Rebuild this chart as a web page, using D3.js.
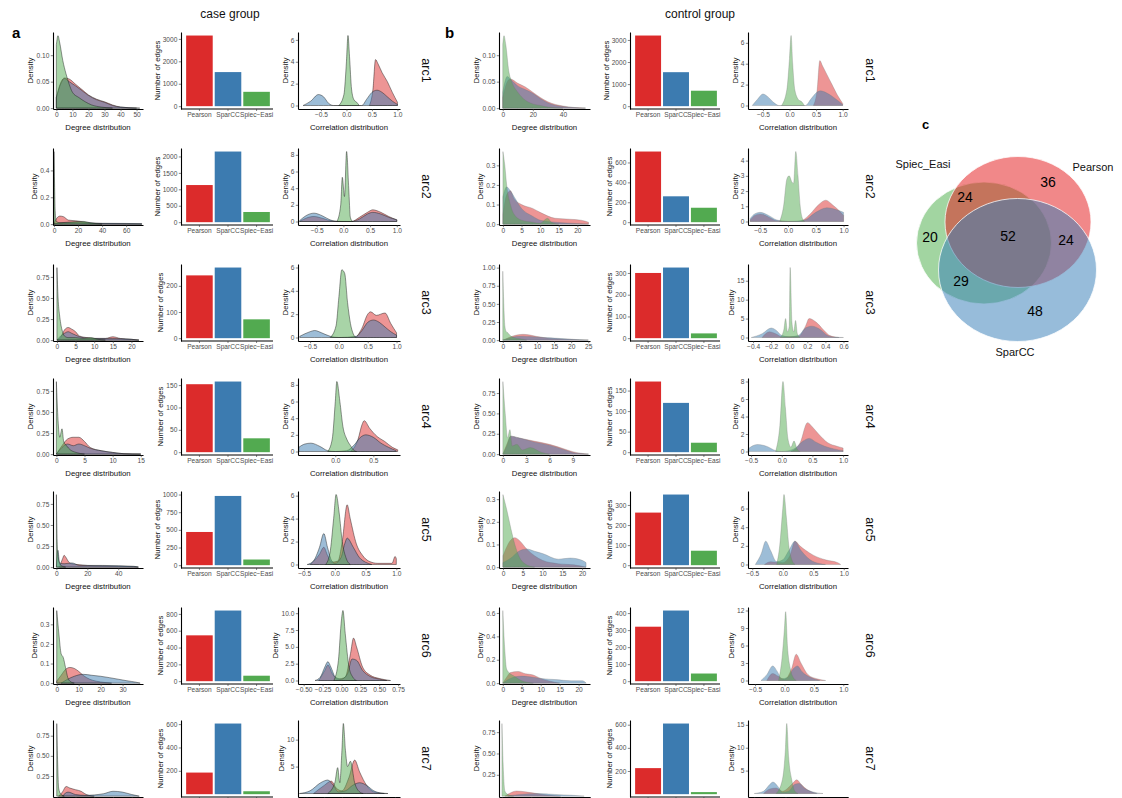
<!DOCTYPE html>
<html>
<head>
<meta charset="utf-8">
<script src="https://cdn.jsdelivr.net/npm/d3@7"></script>
<style>
body { margin: 0; background: #fff; }
text { font-family: "Liberation Sans", Arial, sans-serif; }
</style>
</head>
<body>
<svg id="chart" width="1122" height="798"></svg>
<script>
// ---- data ----
var rowLabels = ["arc1", "arc2", "arc3", "arc4", "arc5", "arc6", "arc7"];
var methods = ["Pearson", "SparCC", "Spiec\u2212Easi"];

// number of edges per method (Pearson, SparCC, Spiec-Easi)
var caseEdges = [[3150, 1520, 640], [1130, 2150, 310], [240, 270, 72], [152, 158, 31], [470, 980, 80], [545, 840, 65], [185, 605, 25]];
var controlEdges = [[3200, 1540, 700], [710, 260, 145], [300, 325, 22], [172, 120, 23], [262, 352, 72], [320, 415, 45], [225, 610, 18]];
var caseEdgeTicks = [[0, 1000, 2000, 3000], [0, 500, 1000, 1500, 2000], [0, 100, 200], [0, 50, 100, 150], [0, 250, 500, 750, 1000], [0, 200, 400, 600, 800], [0, 200, 400, 600]];
var controlEdgeTicks = [[0, 1000, 2000, 3000], [0, 200, 400, 600], [0, 100, 200, 300], [0, 50, 100, 150], [0, 100, 200, 300], [0, 100, 200, 300, 400], [0, 200, 400, 600]];

// degree distribution axes
var caseDegX = [[-2.1, 54], [-0.8, 74], [-1.06, 23.1], [-0.6, 15.4], [-2.2, 56], [-1.7, 39.3], [-2, 46]];
var caseDegXTicks = [[0, 10, 20, 30, 40, 50], [0, 20, 40, 60], [0, 5, 10, 15, 20], [0, 5, 10, 15], [0, 20, 40], [0, 10, 20, 30], [0, 10, 20, 30, 40]];
var caseDegYTicks = [[0, 0.05, 0.10], [0, 0.2, 0.4], [0, 0.25, 0.5, 0.75], [0, 0.25, 0.5, 0.75], [0, 0.25, 0.5, 0.75], [0, 0.1, 0.2, 0.3], [0, 0.25, 0.5, 0.75]];
var controlDegX = [[-2.5, 58], [-1.06, 23.4], [-1.1, 25.5], [-0.5, 11.2], [-1, 22], [-1, 23], [-1, 30]];
var controlDegXTicks = [[0, 20, 40], [0, 5, 10, 15, 20], [0, 5, 10, 15, 20, 25], [0, 3, 6, 9], [0, 5, 10, 15, 20], [0, 5, 10, 15, 20], [0, 10, 20, 30]];
var controlDegYTicks = [[0, 0.05, 0.10], [0, 0.1, 0.2, 0.3], [0, 0.25, 0.5, 0.75, 1], [0, 0.25, 0.5, 0.75], [0, 0.1, 0.2, 0.3], [0, 0.2, 0.4, 0.6], [0, 0.25, 0.5, 0.75]];

// correlation distribution axes
var caseCorrX = [[-0.95, 1.05], [-0.85, 1.06], [-0.71, 1.06], [-0.49, 0.85], [-0.6, 1.06], [-0.575, 0.775], [-0.62, 0.82]];
var caseCorrXTicks = [[-0.5, 0, 0.5, 1], [-0.5, 0, 0.5, 1], [-0.5, 0, 0.5, 1], [0, 0.5], [-0.5, 0, 0.5, 1], [-0.5, -0.25, 0, 0.25, 0.5, 0.75], [-0.5, -0.25, 0, 0.25, 0.5, 0.75]];
var caseCorrYTicks = [[0, 2, 4, 6], [0, 2, 4, 6, 8], [0, 2, 4, 6], [0, 2, 4, 6, 8], [0, 2, 4, 6], [0, 2.5, 5, 7.5, 10], [0, 5, 10]];
var controlCorrX = [[-0.78, 1.1], [-0.72, 1.08], [-0.456, 0.65], [-0.55, 1.08], [-0.57, 1.07], [-0.62, 1.08], [-0.6, 1.0]];
var controlCorrXTicks = [[-0.5, 0, 0.5, 1], [-0.5, 0, 0.5, 1], [-0.4, -0.2, 0, 0.2, 0.4, 0.6], [-0.5, 0, 0.5, 1], [-0.5, 0, 0.5, 1], [-0.5, 0, 0.5, 1], [-0.5, 0, 0.5, 1]];
var controlCorrYTicks = [[0, 2, 4, 6], [0, 1, 2, 3, 4], [0, 5, 10, 15], [0, 2, 4, 6, 8], [0, 2, 4, 6], [0, 3, 6, 9, 12], [0, 5, 10, 15]];

// density curves, [x, density]
var caseDegPearson = [
  [[0,0.02],[3,0.05],[5,0.057],[8,0.055],[12,0.045],[16,0.035],[20,0.025],[25,0.017],[30,0.012],[35,0.006],[40,0.002],[50,0]],
  [[0,0],[2,0.04],[5,0.06],[8,0.055],[12,0.03],[18,0.025],[22,0.02],[28,0.01],[35,0.005],[50,0.003],[73,0]],
  [[0,0],[1,0.03],[2,0.12],[3,0.15],[4,0.13],[5,0.1],[6,0.05],[8,0.03],[10,0.02],[13,0.02],[15,0.04],[17,0.02],[20,0.01],[22,0]],
  [[0,0],[1,0.1],[2,0.18],[3,0.2],[4,0.2],[5,0.15],[6,0.08],[8,0.04],[10,0.02],[12,0.005],[15,0]],
  [[2,0],[4,0.1],[5,0.14],[6,0.12],[8,0.06],[10,0.04],[14,0.03],[20,0.02],[30,0.015],[40,0.01],[50,0.005],[53,0]],
  [[0,0.01],[2,0.04],[4,0.07],[6,0.08],[8,0.075],[10,0.06],[12,0.04],[15,0.02],[18,0.01],[22,0.003],[25,0]],
  [[1,0],[3,0.05],[5,0.12],[7,0.1],[10,0.08],[13,0.06],[15,0.03],[17,0.01],[20,0]]
];
var caseDegSparCC = [
  [[0,0.02],[3,0.048],[5,0.056],[8,0.05],[12,0.042],[16,0.033],[20,0.024],[25,0.016],[30,0.011],[35,0.005],[40,0.002],[52,0]],
  [[0,0],[5,0.01],[20,0.012],[40,0.006],[60,0.005],[73,0.003]],
  [[0,0],[1,0.05],[2,0.08],[3,0.1],[4,0.08],[5,0.06],[7,0.03],[10,0.02],[15,0.02],[20,0.01],[22,0]],
  [[0,0],[1,0.08],[2,0.12],[3,0.1],[4,0.12],[5,0.1],[6,0.07],[8,0.04],[10,0.02],[12,0.005],[15,0]],
  [[0,0],[1,0.2],[2,0.05],[5,0.04],[10,0.05],[15,0.02],[30,0.02],[50,0.01],[53,0]],
  [[2,0],[5,0.02],[8,0.035],[12,0.045],[16,0.04],[20,0.035],[24,0.028],[28,0.02],[32,0.012],[36,0.005],[38,0]],
  [[3,0],[6,0.05],[10,0.02],[15,0.01],[25,0.03],[30,0.06],[35,0.05],[40,0.02],[44,0]]
];
var caseDegSpiec = [
  [[0,0.12],[1,0.137],[2,0.125],[4,0.09],[6,0.065],[8,0.045],[10,0.03],[14,0.02],[18,0.012],[22,0.006],[28,0.002],[35,0]],
  [[0,0.54],[0.5,0.3],[1,0.1],[2,0.02],[5,0.01],[20,0.02],[25,0.02],[30,0.01],[40,0]],
  [[0,0.86],[0.3,0.5],[0.7,0.3],[1,0.2],[1.5,0.1],[2,0.05],[3,0.03],[5,0.03],[7,0.02],[9,0.03],[11,0.01],[13,0]],
  [[0,0.86],[0.3,0.4],[0.6,0.2],[1,0.3],[1.3,0.15],[1.8,0.1],[2.5,0.05],[3.5,0.02],[5,0]],
  [[0,0.86],[0.5,0.3],[1,0.15],[2,0.05],[3,0.02],[6,0]],
  [[0,0.37],[1,0.25],[2,0.15],[3,0.13],[4,0.08],[5,0.03],[6,0.01],[8,0]],
  [[0,0.9],[0.5,0.4],[1,0.1],[2,0.03],[4,0]]
];
var controlDegPearson = [
  [[0,0.02],[3,0.05],[5,0.055],[10,0.047],[15,0.04],[20,0.03],[25,0.02],[30,0.012],[40,0.004],[55,0]],
  [[0,0.05],[1,0.15],[2,0.17],[3,0.13],[5,0.1],[8,0.08],[10,0.06],[14,0.03],[18,0.025],[21,0.02],[23,0.01]],
  [[0,0],[2,0.04],[4,0.07],[6,0.08],[8,0.07],[10,0.05],[13,0.03],[16,0.02],[20,0.01],[25,0]],
  [[0,0],[0.5,0.12],[1,0.22],[2,0.2],[4,0.16],[6,0.12],[8,0.06],[9,0.03],[11,0]],
  [[0,0.05],[2,0.12],[3,0.13],[4,0.12],[6,0.08],[8,0.05],[10,0.03],[14,0.015],[18,0.01],[21,0]],
  [[0,0],[1,0.05],[2,0.09],[4,0.1],[6,0.08],[8,0.07],[10,0.04],[12,0.02],[15,0]],
  [[1,0],[3,0.04],[5,0.06],[8,0.05],[12,0.03],[16,0.01],[20,0]]
];
var controlDegSparCC = [
  [[0,0.03],[3,0.06],[5,0.055],[10,0.042],[15,0.035],[20,0.028],[25,0.018],[30,0.01],[40,0.003],[55,0]],
  [[0,0.14],[1,0.19],[2,0.17],[3,0.14],[5,0.08],[8,0.04],[10,0.02],[14,0.01],[18,0.005],[23,0]],
  [[0,0],[2,0.03],[4,0.05],[6,0.055],[8,0.05],[12,0.035],[16,0.025],[20,0.012],[25,0]],
  [[0,0],[0.5,0.1],[1,0.22],[2,0.2],[4,0.15],[6,0.11],[8,0.05],[9,0.02],[11,0]],
  [[0,0.02],[2,0.04],[4,0.07],[6,0.08],[8,0.07],[10,0.06],[14,0.035],[17,0.04],[20,0.03],[21,0.02]],
  [[0,0],[2,0.04],[5,0.06],[8,0.05],[10,0.04],[14,0.03],[18,0.02],[21,0.02],[22,0]],
  [[2,0],[6,0.02],[12,0.03],[18,0.02],[24,0.01],[28,0]]
];
var controlDegSpiec = [
  [[0,0.12],[0.8,0.137],[2,0.12],[4,0.07],[6,0.05],[10,0.03],[15,0.015],[20,0.008],[25,0.005],[30,0.002],[40,0]],
  [[0,0.37],[0.5,0.3],[1,0.2],[2,0.1],[3,0.05],[5,0.02],[8,0.01],[10,0.005],[12,0.03],[13,0.01],[15,0]],
  [[0,0.95],[0.3,0.5],[0.6,0.2],[1,0.12],[1.5,0.1],[2,0.07],[3,0.04],[5,0.02],[7,0]],
  [[0,0.89],[0.3,0.5],[0.6,0.2],[0.9,0.3],[1.2,0.1],[1.8,0.12],[2.5,0.05],[3.5,0.08],[5,0.02],[6,0]],
  [[0,0.32],[1,0.25],[2,0.17],[3,0.1],[4,0.05],[6,0.01],[8,0]],
  [[0,0.62],[0.5,0.3],[1,0.12],[2,0.08],[3,0.06],[5,0.02],[8,0]],
  [[0,0.85],[0.5,0.3],[1,0.06],[2,0.02],[4,0]]
];

var caseCorrPearson = [
  [[0.45,0],[0.52,1.5],[0.57,4.2],[0.62,3.8],[0.7,3.0],[0.8,2.2],[0.9,1.2],[1.0,0.3]],
  [[-0.82,0],[-0.7,0.4],[-0.55,0.6],[-0.4,0.4],[-0.2,0.05],[0.15,0],[0.3,0.5],[0.45,1.1],[0.55,1.4],[0.7,1.1],[0.85,0.6],[1.0,0.2]],
  [[0.3,0],[0.4,0.8],[0.5,2.0],[0.55,2.2],[0.65,1.9],[0.8,2.1],[0.9,1.2],[1.0,0.4]],
  [[0.2,0],[0.3,1.5],[0.35,3.2],[0.38,3.7],[0.45,2.8],[0.55,1.8],[0.65,1.2],[0.75,0.5],[0.82,0.2]],
  [[-0.4,0],[-0.25,0.9],[-0.18,1.5],[-0.12,0.8],[-0.05,0.2],[0.05,0.3],[0.12,2.0],[0.2,5.2],[0.25,4.0],[0.35,1.8],[0.45,0.8],[0.55,0.3],[0.7,0.1],[0.93,0.1],[0.98,0.7],[1.0,0.5]],
  [[-0.3,0],[-0.22,1.5],[-0.18,2.3],[-0.12,1],[-0.05,0.2],[0.05,0.5],[0.12,4],[0.16,6.3],[0.2,5],[0.28,2],[0.38,0.8],[0.5,0.3],[0.65,0]],
  [[-0.4,0],[-0.25,1.5],[-0.15,2.3],[-0.08,1],[0,0.5],[0.1,3],[0.18,6.2],[0.25,4],[0.35,1.5],[0.45,0.3],[0.6,0]]
];
var caseCorrSparCC = [
  [[-0.85,0],[-0.7,0.4],[-0.55,1.0],[-0.45,0.8],[-0.35,0.2],[-0.25,0],[0.3,0],[0.4,0.6],[0.5,1.2],[0.6,1.4],[0.7,1.2],[0.8,0.8],[0.9,0.4],[1.0,0.1]],
  [[-0.82,0.1],[-0.7,0.7],[-0.55,1.0],[-0.4,0.7],[-0.25,0.2],[-0.1,0],[0.15,0],[0.3,0.3],[0.45,0.9],[0.55,1.1],[0.7,0.9],[0.85,0.5],[1.0,0.2]],
  [[-0.68,0.1],[-0.5,0.5],[-0.42,0.6],[-0.3,0.4],[-0.15,0.1],[0,0],[0.3,0.1],[0.4,0.6],[0.5,1.3],[0.6,1.5],[0.7,1.3],[0.8,0.9],[0.9,0.5],[1.0,0.2]],
  [[-0.48,0.5],[-0.4,0.9],[-0.32,1.0],[-0.2,0.6],[-0.1,0.1],[0,0],[0.15,0.1],[0.25,0.8],[0.33,1.7],[0.4,2.0],[0.5,1.7],[0.6,1.0],[0.7,0.5],[0.8,0.1]],
  [[-0.45,0],[-0.35,0.3],[-0.25,1.5],[-0.18,2.7],[-0.12,1.5],[-0.05,0.3],[0,0.1],[0.1,0.6],[0.16,1.8],[0.2,2.3],[0.3,1.5],[0.4,0.6],[0.5,0.2],[0.6,0]],
  [[-0.35,0],[-0.28,0.5],[-0.22,2],[-0.18,2.8],[-0.14,2],[-0.08,0.5],[0,0.2],[0.08,1],[0.14,3.2],[0.2,3],[0.28,1.5],[0.38,0.6],[0.5,0.2],[0.6,0]],
  [[-0.6,0],[-0.45,0.5],[-0.3,2],[-0.2,2.5],[-0.12,1.5],[-0.05,0.3],[0.05,0.5],[0.15,1.5],[0.25,2],[0.35,1.5],[0.45,0.5],[0.55,0.1],[0.65,0]]
];
var caseCorrSpiec = [
  [[-0.15,0],[-0.05,1.0],[0.0,4.0],[0.03,6.4],[0.06,4.5],[0.1,1.5],[0.15,0.5],[0.2,0.3],[0.25,0]],
  [[-0.12,0],[-0.05,2],[-0.02,5.3],[0.02,3.0],[0.06,8.4],[0.1,4],[0.13,0.5],[0.17,0]],
  [[-0.15,0],[-0.05,1.0],[0.0,3.5],[0.05,5.8],[0.1,5.5],[0.15,3.0],[0.2,1.2],[0.25,0.3],[0.3,0]],
  [[-0.1,0],[-0.04,1.5],[0.0,6],[0.02,8.4],[0.06,6],[0.1,3],[0.15,1.5],[0.2,0.7],[0.25,0.1],[0.28,0]],
  [[-0.15,0],[-0.08,1],[-0.02,4],[0.02,6.1],[0.07,4.5],[0.12,2],[0.18,0.6],[0.25,0]],
  [[-0.1,0],[-0.04,3],[0,9],[0.02,10.4],[0.05,7],[0.1,2],[0.15,0.5],[0.2,0]],
  [[-0.2,0],[-0.1,2],[-0.06,4.8],[-0.03,2],[0,8],[0.02,13],[0.05,8],[0.08,5],[0.12,6],[0.18,2],[0.25,0.3],[0.3,0]]
];
var controlCorrPearson = [
  [[0.45,0],[0.52,1.5],[0.57,4.3],[0.62,3.8],[0.7,3.0],[0.8,2.0],[0.9,1.0],[1.0,0.2]],
  [[-0.68,0.1],[-0.6,0.4],[-0.5,0.5],[-0.35,0.3],[-0.2,0.05],[0.2,0],[0.4,0.5],[0.55,1.1],[0.68,1.4],[0.8,1.1],[0.95,0.6],[1.0,0.4]],
  [[-0.3,0],[-0.22,1.5],[-0.15,1],[-0.08,0.2],[0.1,0.3],[0.18,3],[0.22,5],[0.3,4],[0.38,2],[0.45,0.5],[0.55,0]],
  [[0.15,0],[0.3,1],[0.42,3.3],[0.5,2.8],[0.6,2],[0.75,1],[0.9,0.6],[1.0,0.4]],
  [[-0.3,0],[-0.2,0.3],[0,0.2],[0.12,1],[0.2,2.5],[0.28,2],[0.38,1.5],[0.5,1],[0.7,0.5],[0.9,0.2],[0.95,0]],
  [[-0.3,0],[-0.2,1.2],[-0.12,0.8],[0,0.2],[0.12,2],[0.2,4.5],[0.28,3],[0.4,1],[0.55,0.3],[0.7,0]],
  [[-0.35,0],[-0.25,1],[-0.15,1.2],[-0.05,0.5],[0.1,2],[0.18,3],[0.25,2],[0.35,0.8],[0.5,0]]
];
var controlCorrSparCC = [
  [[-0.7,0],[-0.6,0.6],[-0.5,1.1],[-0.4,0.8],[-0.3,0.3],[-0.2,0],[0.3,0],[0.4,0.6],[0.5,1.2],[0.58,1.4],[0.7,1.2],[0.85,0.7],[1.0,0.1]],
  [[-0.68,0.2],[-0.6,0.5],[-0.5,0.6],[-0.35,0.4],[-0.2,0.1],[0,0],[0.3,0.1],[0.5,0.6],[0.7,0.9],[0.85,0.8],[1.0,0.6]],
  [[-0.42,0],[-0.3,1],[-0.2,2.5],[-0.15,2],[-0.08,0.5],[0,0.2],[0.1,0.5],[0.18,2.5],[0.25,3],[0.35,2],[0.42,0.6],[0.5,0.1],[0.6,0]],
  [[-0.55,0.3],[-0.4,0.8],[-0.25,0.6],[-0.1,0.1],[0,0],[0.2,0.3],[0.35,1.2],[0.45,1.5],[0.55,1.1],[0.7,0.6],[0.85,0.3],[1.0,0.1]],
  [[-0.45,0],[-0.35,1.2],[-0.28,2.5],[-0.2,1.5],[-0.1,0.3],[0,0.5],[0.1,1.5],[0.2,2.5],[0.3,1.5],[0.45,0.5],[0.6,0.1],[0.7,0]],
  [[-0.4,0],[-0.3,1],[-0.2,2.5],[-0.12,1.5],[-0.05,0.3],[0.05,0.5],[0.15,2],[0.22,2.5],[0.3,1.5],[0.45,0.5],[0.6,0]],
  [[-0.5,0],[-0.35,0.5],[-0.25,2],[-0.2,2.5],[-0.12,1.5],[-0.05,0.3],[0.05,0.5],[0.15,2],[0.22,2.2],[0.3,1.2],[0.45,0.3],[0.6,0]]
];
var controlCorrSpiec = [
  [[-0.15,0],[-0.05,1.5],[0.0,4.5],[0.03,6.7],[0.06,4],[0.1,1.5],[0.18,0.5],[0.22,0.4],[0.28,0]],
  [[-0.15,0],[-0.08,1],[-0.02,2.8],[0.02,3.0],[0.07,2.6],[0.1,2.5],[0.14,4.6],[0.18,3],[0.22,1],[0.26,0.2],[0.3,0]],
  [[-0.1,0],[-0.06,2],[-0.04,5],[-0.02,1.5],[0,3],[0.01,18.5],[0.03,4],[0.05,1.5],[0.07,4.5],[0.09,1],[0.12,0]],
  [[-0.1,0],[-0.03,3],[0.02,8],[0.06,5],[0.1,1.5],[0.15,0.5],[0.2,1.2],[0.25,0.3],[0.3,0]],
  [[-0.1,0],[-0.05,2],[0,6],[0.02,7.5],[0.06,5],[0.1,2],[0.15,0.5],[0.2,0]],
  [[-0.1,0],[-0.04,4],[0,9],[0.02,11.8],[0.05,6],[0.1,2],[0.15,0.5],[0.2,0]],
  [[-0.15,0],[-0.05,3],[0,10],[0.02,15.3],[0.05,8],[0.1,3],[0.15,0.5],[0.2,0]]
];

// venn (panel c)
var vennSets = ["Spiec_Easi", "Pearson", "SparCC"];
var vennCounts = [36, 48, 20, 24, 24, 29, 52]; // P only, S only, E only, P&S, P&E, S&E, all

// ---- drawing ----
var svg = d3.select("#chart");
var fills = ["#DC2B2B", "#3C7BB0", "#52AA50"];
var panelH = 77;
var bottomEdge = 790; // labels below this fall outside the page
var rowBase = [109, 225, 341, 455, 568, 684, 797];
var layout = [
  { deg: [53, 143], bar: [181, 273], corr: [298, 400], lab: 422, title: 230, tag: 12, stroke: "#1a1a1a", sop: 0.75 },
  { deg: [499, 590], bar: [630, 720], corr: [748, 848], lab: 866, title: 700, tag: 445, stroke: "#777", sop: 0.5 }
];

function fmtFor(ticks) {
  var dec = d3.max(ticks, function(t) {
    var s = String(t);
    return s.indexOf(".") >= 0 ? s.split(".")[1].length : 0;
  });
  return d3.format("." + dec + "f");
}

function styleAxis(g) {
  g.select(".domain").attr("stroke", "#000").attr("stroke-width", 1.1);
  g.selectAll(".tick line").attr("stroke", "#333").attr("stroke-width", 0.6);
  g.selectAll(".tick text").attr("fill", "#4d4d4d").attr("font-size", 6.6)
    .attr("font-family", "'Liberation Sans', Arial, sans-serif");
}

function yTitle(axisG, ax, base, label) {
  var bb = axisG.node().getBBox();
  svg.append("text")
    .attr("transform", "translate(" + (ax + bb.x - 3) + "," + (base - panelH / 2) + ") rotate(-90)")
    .attr("text-anchor", "middle").attr("font-size", 7.8).attr("fill", "#111")
    .text(label);
}

function xTitle(x0, x1, base, label) {
  if (base + 21 > bottomEdge) return;
  svg.append("text").attr("x", (x0 + x1) / 2).attr("y", base + 21)
    .attr("text-anchor", "middle").attr("font-size", 7.8).attr("fill", "#111")
    .text(label);
}

function densityPanel(xr, base, xDom, xTicks, yTicks, curves, lay, bottomPad, label) {
  var x = d3.scaleLinear().domain(xDom).range(xr);
  var top = Math.max(d3.max(curves, function(c) { return d3.max(c, function(p) { return p[1]; }); }), d3.max(yTicks));
  var y = d3.scaleLinear().domain([-top * bottomPad, top * 1.05]).range([base, base - panelH]);
  var area = d3.area().curve(d3.curveMonotoneX)
    .x(function(d) { return x(d[0]); })
    .y0(y(0))
    .y1(function(d) { return y(d[1]); });

  curves.forEach(function(c, i) {
    svg.append("path").attr("d", area(c))
      .attr("fill", fills[i]).attr("fill-opacity", 0.5)
      .attr("stroke", lay.stroke).attr("stroke-opacity", lay.sop).attr("stroke-width", 0.6);
  });

  var showX = base + 8 < bottomEdge;
  var gx = svg.append("g").attr("transform", "translate(0," + base + ")")
    .call(d3.axisBottom(x).tickValues(xTicks).tickFormat(showX ? fmtFor(xTicks) : "").tickSize(2.2).tickSizeOuter(0).tickPadding(1.5));
  styleAxis(gx);
  var yt = yTicks.filter(function(t) { return y(t) + 3 < bottomEdge; });
  var gy = svg.append("g").attr("transform", "translate(" + xr[0] + ",0)")
    .call(d3.axisLeft(y).tickValues(yt).tickFormat(fmtFor(yTicks)).tickSize(2.2).tickSizeOuter(0).tickPadding(1.5));
  styleAxis(gy);
  yTitle(gy, xr[0], base, "Density");
  xTitle(xr[0], xr[1], base, label);
}

function barPanel(xr, base, values, ticks) {
  var x = d3.scaleBand().domain(methods).range([xr[0] + 4, xr[1] - 2]).paddingInner(0.07).paddingOuter(0.04);
  var top = Math.max(d3.max(values), d3.max(ticks));
  var y = d3.scaleLinear().domain([-top * 0.04, top * 1.05]).range([base, base - panelH]);

  svg.selectAll(null).data(values).enter().append("rect")
    .attr("x", function(d, i) { return x(methods[i]); })
    .attr("width", x.bandwidth())
    .attr("y", function(d) { return y(d); })
    .attr("height", function(d) { return y(0) - y(d); })
    .attr("fill", function(d, i) { return fills[i]; });

  var showX = base + 8 < bottomEdge;
  var gx = svg.append("g").attr("transform", "translate(0," + base + ")")
    .call(d3.axisBottom(x).tickFormat(showX ? null : "").tickSize(2).tickSizeOuter(0).tickPadding(1.5));
  gx.select(".domain").attr("d", "M" + xr[0] + ",0H" + xr[1]);
  styleAxis(gx);
  var yt = ticks.filter(function(t) { return y(t) + 3 < bottomEdge; });
  var gy = svg.append("g").attr("transform", "translate(" + xr[0] + ",0)")
    .call(d3.axisLeft(y).tickValues(yt).tickFormat(d3.format("d")).tickSize(2.2).tickSizeOuter(0).tickPadding(1.5));
  styleAxis(gy);
  yTitle(gy, xr[0], base, "Number of edges");
}

var groups = [
  { name: "case group", tag: "a", edges: caseEdges, edgeTicks: caseEdgeTicks,
    degX: caseDegX, degXT: caseDegXTicks, degYT: caseDegYTicks, deg: [caseDegPearson, caseDegSparCC, caseDegSpiec],
    corrX: caseCorrX, corrXT: caseCorrXTicks, corrYT: caseCorrYTicks, corr: [caseCorrPearson, caseCorrSparCC, caseCorrSpiec] },
  { name: "control group", tag: "b", edges: controlEdges, edgeTicks: controlEdgeTicks,
    degX: controlDegX, degXT: controlDegXTicks, degYT: controlDegYTicks, deg: [controlDegPearson, controlDegSparCC, controlDegSpiec],
    corrX: controlCorrX, corrXT: controlCorrXTicks, corrYT: controlCorrYTicks, corr: [controlCorrPearson, controlCorrSparCC, controlCorrSpiec] }
];

groups.forEach(function(gr, gi) {
  var lay = layout[gi];
  svg.append("text").attr("x", lay.title).attr("y", 18).attr("text-anchor", "middle")
    .attr("font-size", 12).attr("fill", "#111").text(gr.name);
  svg.append("text").attr("x", lay.tag).attr("y", 38).attr("font-size", 15)
    .attr("font-weight", "bold").attr("fill", "#000").text(gr.tag);

  rowLabels.forEach(function(rl, r) {
    var base = rowBase[r];
    densityPanel(lay.deg, base, gr.degX[r], gr.degXT[r], gr.degYT[r],
      gr.deg.map(function(s) { return s[r]; }), lay, 0.012, "Degree distribution");
    barPanel(lay.bar, base, gr.edges[r], gr.edgeTicks[r]);
    densityPanel(lay.corr, base, gr.corrX[r], gr.corrXT[r], gr.corrYT[r],
      gr.corr.map(function(s) { return s[r]; }), lay, 0.05, "Correlation distribution");
    svg.append("text")
      .attr("transform", "translate(" + lay.lab + "," + (base - panelH / 2) + ") rotate(90)")
      .attr("text-anchor", "middle").attr("font-size", 12.5).attr("fill", "#111")
      .text(rl);
  });
});

// venn diagram, shapes drawn green, red, blue
var vennShape = {
  Spiec_Easi: { cx: 984, cy: 243, rx: 67.5, ry: 61, fill: "#4DAF4A", lx: 923, ly: 168 },
  Pearson: { cx: 1018, cy: 222, rx: 73, ry: 65.5, fill: "#E41A1C", lx: 1093, ly: 171 },
  SparCC: { cx: 1017.5, cy: 270, rx: 79, ry: 71.5, fill: "#377EB8", lx: 1015, ly: 356 }
};
var vennCountPos = [[1048, 182], [1035, 311], [930, 237], [1066, 240], [965, 197], [961, 281], [1008, 236]];

svg.append("text").attr("x", 922).attr("y", 129).attr("font-size", 13)
  .attr("font-weight", "bold").attr("fill", "#000").text("c");

svg.selectAll(".venn").data(vennSets).enter().append("ellipse")
  .attr("class", "venn")
  .attr("cx", function(d) { return vennShape[d].cx; })
  .attr("cy", function(d) { return vennShape[d].cy; })
  .attr("rx", function(d) { return vennShape[d].rx; })
  .attr("ry", function(d) { return vennShape[d].ry; })
  .attr("fill", function(d) { return vennShape[d].fill; })
  .attr("fill-opacity", 0.52)
  .attr("stroke", "#fff").attr("stroke-opacity", 0.75).attr("stroke-width", 1);

svg.selectAll(".vlab").data(vennSets).enter().append("text")
  .attr("x", function(d) { return vennShape[d].lx; })
  .attr("y", function(d) { return vennShape[d].ly; })
  .attr("text-anchor", "middle").attr("font-size", 11).attr("fill", "#111")
  .text(function(d) { return d; });

svg.selectAll(".vnum").data(vennCounts).enter().append("text")
  .attr("x", function(d, i) { return vennCountPos[i][0]; })
  .attr("y", function(d, i) { return vennCountPos[i][1]; })
  .attr("dy", "0.35em").attr("text-anchor", "middle").attr("font-size", 14).attr("fill", "#000")
  .text(function(d) { return d; });
</script>
</body>
</html>
